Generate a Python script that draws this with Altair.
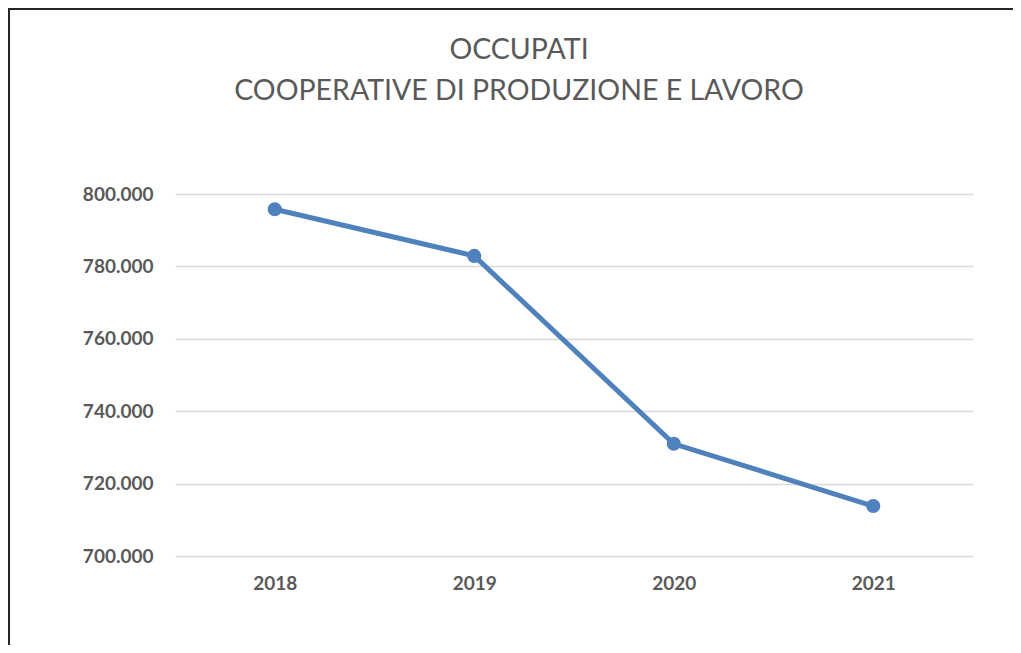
import altair as alt
import pandas as pd

years = ["2018", "2019", "2020", "2021"]
occupati = [795800, 782900, 731000, 713800]
y_ticks = [700000, 720000, 740000, 760000, 780000, 800000]
title_lines = ["OCCUPATI", "COOPERATIVE DI PRODUZIONE E LAVORO"]

df = pd.DataFrame({"anno": years, "occupati": occupati})

W, H = 798, 362
PAD_L, PAD_T = 167, 186

x_enc = alt.X("anno:N", sort=years, title=None,
              scale=alt.Scale(type="point", padding=0.5),
              axis=alt.Axis(labelAngle=0, ticks=False, domain=False, grid=False,
                            labelFont="Lato", labelFontWeight="bold", labelFontSize=19,
                            labelColor="#595959", labelPadding=18))
y_enc = alt.Y("occupati:Q", title=None,
              scale=alt.Scale(domain=[700000, 800000], nice=False, zero=False),
              axis=alt.Axis(values=y_ticks, ticks=False, domain=False, grid=True,
                            gridColor="#d9d9d9", gridWidth=1.3,
                            labelExpr="format(datum.value/1000, '.3f')",
                            labelFont="Lato", labelFontWeight="bold", labelFontSize=19,
                            labelColor="#595959", labelPadding=22))

line = alt.Chart(df).mark_line(color="#4f81bd", strokeWidth=5).encode(x=x_enc, y=y_enc)
pts = alt.Chart(df).mark_point(filled=True, color="#4f81bd", size=200, opacity=1).encode(x=x_enc, y=y_enc)

border_data = alt.Data(values=[{"k": 0}])
left_border = alt.Chart(border_data).mark_rule(color="#262626", strokeWidth=2).encode(
    x=alt.value(-PAD_L + 1), y=alt.value(-PAD_T), y2=alt.value(H + 100))
top_border = alt.Chart(border_data).mark_rule(color="#262626", strokeWidth=2).encode(
    y=alt.value(-PAD_T + 1), x=alt.value(-PAD_L), x2=alt.value(W + 60))

chart = alt.layer(left_border, top_border, line, pts).properties(
    width=W, height=H,
    background="white",
    title=alt.TitleParams(title_lines, font="Lato", fontSize=28.5, fontWeight="normal",
                          color="#595959", anchor="middle", frame="group", dx=-55,
                          offset=0, dy=98, lineHeight=41),
    autosize=alt.AutoSizeParams(type="none"),
    padding={"left": PAD_L, "top": PAD_T, "right": 40, "bottom": 89},
).configure_view(stroke="transparent", strokeWidth=0)

chart.save("out.html", embed_options={"renderer": "svg", "actions": False})
